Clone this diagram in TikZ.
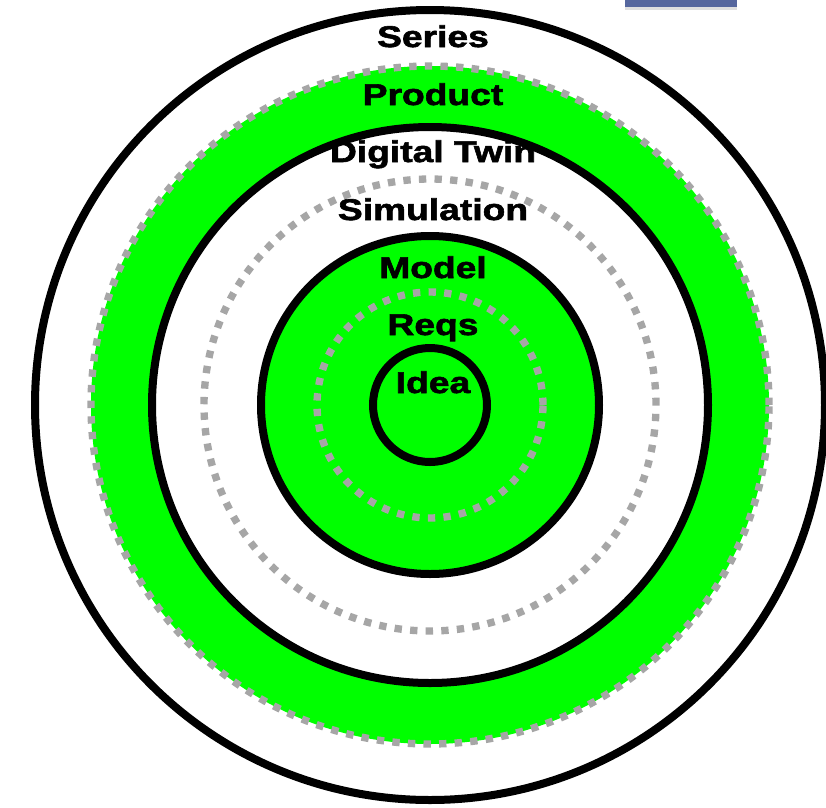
\documentclass[tikz,border=0pt]{standalone}
\usepackage{tikz}
\usepackage{xcolor}
\usepackage{fontspec}
\usetikzlibrary{shadows}
\newfontfamily\ringfont[FakeStretch=1.24,FakeBold=2]{Liberation Sans}
\definecolor{ringgreen}{RGB}{0,255,0}
\definecolor{ringgray}{RGB}{166,166,166}
\definecolor{tabblue}{RGB}{86,103,158}

\begin{document}
\begin{tikzpicture}[x=0.75pt,y=0.75pt]
\tikzstyle{every node}+=[inner sep=0pt,anchor=base,font=\ringfont\bfseries\fontsize{22.5}{24}\selectfont]
\tikzstyle{solidring}=[black,line width=6pt]
\tikzstyle{dotring}=[ringgray,line width=5.5pt,dash pattern=on 5.5pt off 6.2pt]
\useasboundingbox (0,0) rectangle (826,-808);
\begin{scope}
\clip (0,0) rectangle (826,-808);
\fill [tabblue,drop shadow={opacity=0.25,shadow xshift=0pt,shadow yshift=-2pt}] (625,8) rectangle (737,-7);
\draw [solidring,fill=white] (430,-405) circle (395);
\fill [ringgreen] (430,-405) circle (339);
\draw [dotring] (430,-405) circle (339);
\draw [solidring,fill=white] (430,-405) circle (278);
\draw [dotring] (430,-405) circle (226);
\draw [solidring,fill=ringgreen] (430,-405) circle (169);
\draw [dotring] (430,-405) circle (113);
\draw [solidring] (430,-405) circle (57);
\end{scope}
\node (series) at (433,-47) {Series};
\node (product) at (433,-105) {Product};
\node (twin) at (433,-162) {Digital Twin};
\node (simulation) at (433,-220) {Simulation};
\node (model) at (433,-278) {Model};
\node (reqs) at (433,-335) {Reqs};
\node (idea) at (433,-393) {Idea};
\end{tikzpicture}
\end{document}
